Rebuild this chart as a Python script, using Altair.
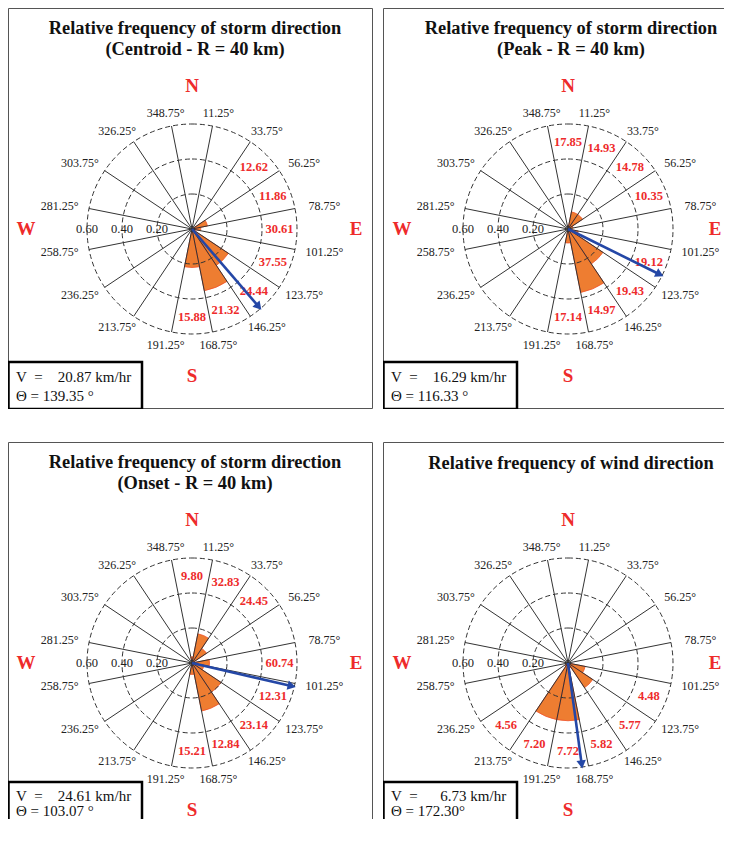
import math
import altair as alt
import pandas as pd

# ---------------- data ----------------
DIRS = [i * 22.5 for i in range(16)]            # sector centres (deg)
SPOKES = [11.25 + 22.5 * i for i in range(16)]  # sector edges (deg)
RINGS = [0.2, 0.4, 0.6]
RING_TEXT = ["0.20", "0.40", "0.60"]

TITLES = [
    ["Relative frequency of storm direction", "(Centroid - R = 40 km)"],
    ["Relative frequency of storm direction", "(Peak - R = 40 km)"],
    ["Relative frequency of storm direction", "(Onset - R = 40 km)"],
    ["Relative frequency of wind direction"],
]

centroid_freq = [0, 0, 0.01, 0.09, 0.05, 0.02, 0.25, 0.36, 0.22, 0, 0, 0, 0, 0, 0, 0]
centroid_speed = [None, None, 12.62, 11.86, 30.61, 37.55, 24.44, 21.32, 15.88,
                  None, None, None, None, None, None, None]

peak_freq = [0.02, 0.10, 0.10, 0.03, 0, 0.06, 0.24, 0.37, 0.08, 0, 0, 0, 0, 0, 0, 0]
peak_speed = [17.85, 14.93, 14.78, 10.35, None, 19.12, 19.43, 14.97, 17.14,
              None, None, None, None, None, None, None]

onset_freq = [0.035, 0.17, 0.10, 0, 0.10, 0.07, 0.20, 0.28, 0.065, 0, 0, 0, 0, 0, 0, 0]
onset_speed = [9.80, 32.83, 24.45, None, 60.74, 12.31, 23.14, 12.84, 15.21,
               None, None, None, None, None, None, None]

wind_freq = [0, 0, 0, 0, 0, 0.10, 0.17, 0.03, 0.33, 0.33, 0.02, 0, 0, 0, 0, 0]
wind_speed = [None, None, None, None, None, 4.48, 5.77, 5.82, 7.72, 7.20, 4.56,
              None, None, None, None, None]

FREQS = [centroid_freq, peak_freq, onset_freq, wind_freq]
SPEEDS = [centroid_speed, peak_speed, onset_speed, wind_speed]
V_MEAN = [20.87, 16.29, 24.61, 6.73]
THETA_MEAN = [139.35, 116.33, 103.07, 172.30]
THETA_SUFFIX = ["\u00a0°", "\u00a0°", "\u00a0°", "°"]
COMPASS = ["N", "E", "S", "W"]

# ---------------- layout / style ----------------
U = 175.0                 # px per frequency unit
COL_W = [365, 341]        # panel widths (right column is cut by the page edge)
ROW_H = [401, 377]        # panel heights (bottom row is cut by the page edge)
COL_CX = [184, 185]       # rose centre, px from panel left
CY = 221                  # rose centre, px from panel top
INFO_Y = [[354, 369, 388], [340, 354, 369]]   # box top, line 1, line 2 (px from panel top)
FONT = "Liberation Serif"
ORANGE = "#EE7D31"
RED = "#EE2B2B"
BLUE = "#2447A6"
GRID = "#333333"

TS = alt.Scale(domain=[0, 360], range=[0, 2 * math.pi])
RS = alt.Scale(type="linear", domain=[0, 0.6], range=[0, 0.6 * U], zero=True)


def rad(d):
    return math.radians(d)


def panel(i):
    col, row = i % 2, i // 2
    PW, PH, CX = COL_W[col], ROW_H[row], COL_CX[col]

    def px(xp):
        return (xp - CX) / U

    def py(yp):
        return (CY - yp) / U

    xs = alt.Scale(domain=[-CX / U, (PW - CX) / U], nice=False, zero=False)
    ys = alt.Scale(domain=[-(PH - CY) / U, CY / U], nice=False, zero=False)
    X = alt.X("x:Q", scale=xs, axis=None)
    Y = alt.Y("y:Q", scale=ys, axis=None)

    freq, speed = FREQS[i], SPEEDS[i]
    layers = []

    # panel frame (edges beyond the page are clipped away)
    fx2 = PW - 0.5 if col == 0 else PW + 10
    fy2 = PH - 0.5 if row == 0 else PH + 10
    fdf = pd.DataFrame({"x": [px(0.5)], "x2": [px(fx2)], "y": [py(0.5)], "y2": [py(fy2)]})
    layers.append(
        alt.Chart(fdf).mark_rect(fillOpacity=0, stroke="#555", strokeWidth=1, clip=True)
        .encode(x=X, y=Y, x2="x2:Q", y2="y2:Q")
    )

    # wedges
    w = []
    for d, f in zip(DIRS, freq):
        if f > 0:
            t1 = d - 11.25 if d > 0 else 348.75
            w.append({"x": 0, "y": 0, "t1": t1, "t2": t1 + 22.5, "f": f})
    layers.append(
        alt.Chart(pd.DataFrame(w)).mark_arc(fill=ORANGE, stroke="#F0502A", strokeWidth=0.8)
        .encode(x=X, y=Y,
                theta=alt.Theta("t1:Q", scale=TS, stack=False), theta2="t2:Q",
                radius=alt.Radius("f:Q", scale=RS, stack=False))
    )

    # dashed rings
    rdf = pd.DataFrame({"x": 0, "y": 0, "t1": 0, "t2": 360, "f": RINGS})
    layers.append(
        alt.Chart(rdf).mark_arc(fillOpacity=0, stroke=GRID, strokeWidth=1, strokeDash=[5, 3])
        .encode(x=X, y=Y,
                theta=alt.Theta("t1:Q", scale=TS, stack=False), theta2="t2:Q",
                radius=alt.Radius("f:Q", scale=RS, stack=False))
    )

    # spokes
    sdf = pd.DataFrame({
        "x": 0, "y": 0,
        "x2": [RINGS[-1] * math.sin(rad(s)) for s in SPOKES],
        "y2": [RINGS[-1] * math.cos(rad(s)) for s in SPOKES],
    })
    layers.append(
        alt.Chart(sdf).mark_rule(color=GRID, strokeWidth=1)
        .encode(x=X, y=Y, x2="x2:Q", y2="y2:Q")
    )

    # degree labels
    ldf = pd.DataFrame({
        "x": [0.771 * math.sin(rad(s)) for s in SPOKES],
        "y": [0.674 * math.cos(rad(s)) for s in SPOKES],
        "t": [f"{s:g}°" for s in SPOKES],
    })
    layers.append(
        alt.Chart(ldf).mark_text(font=FONT, fontSize=12, color="#222", align="center",
                                 baseline="middle", clip=True)
        .encode(x=X, y=Y, text="t:N")
    )

    # ring labels
    rl = pd.DataFrame({"x": [-r for r in RINGS], "y": 0, "t": RING_TEXT})
    layers.append(
        alt.Chart(rl).mark_text(font=FONT, fontSize=12.5, color="#222", align="center", baseline="middle")
        .encode(x=X, y=Y, text="t:N")
    )

    # speed labels
    sp = [{"x": 0.5 * math.sin(rad(d)), "y": 0.5 * math.cos(rad(d)), "t": f"{v:.2f}"}
          for d, v in zip(DIRS, speed) if v is not None]
    layers.append(
        alt.Chart(pd.DataFrame(sp)).mark_text(font=FONT, fontSize=12.5, fontWeight="bold", color=RED,
                                              align="center", baseline="middle")
        .encode(x=X, y=Y, text="t:N")
    )

    # compass letters (E of the right column pulled inside the page edge)
    ex = min(164, PW - CX - 9)
    cdf = pd.DataFrame({
        "x": [0, ex / U, 0, -166 / U],
        "y": [143 / U, 0, -147 / U, 0],
        "t": COMPASS,
    })
    layers.append(
        alt.Chart(cdf).mark_text(font=FONT, fontSize=19, fontWeight="bold", color=RED,
                                 align="center", baseline="middle", clip=True)
        .encode(x=X, y=Y, text="t:N")
    )

    # titles
    tys = [20, 41] if len(TITLES[i]) == 2 else [21]
    tdf = pd.DataFrame({"x": px(CX + 3), "y": [py(v) for v in tys], "t": TITLES[i]})
    layers.append(
        alt.Chart(tdf).mark_text(font=FONT, fontSize=18.4, fontWeight="bold", color="#111",
                                 align="center", baseline="middle", clip=True)
        .encode(x=X, y=Y, text="t:N")
    )

    # mean vector arrow
    th = THETA_MEAN[i]
    adf = pd.DataFrame({"x": [0], "y": [0],
                        "x2": [0.57 * math.sin(rad(th))], "y2": [0.57 * math.cos(rad(th))]})
    layers.append(
        alt.Chart(adf).mark_rule(color=BLUE, strokeWidth=2.6).encode(x=X, y=Y, x2="x2:Q", y2="y2:Q")
    )
    hdf = pd.DataFrame({"x": [0.585 * math.sin(rad(th))], "y": [0.585 * math.cos(rad(th))]})
    layers.append(
        alt.Chart(hdf).mark_point(shape="triangle-up", filled=True, size=90, color=BLUE,
                                  opacity=1, angle=th)
        .encode(x=X, y=Y)
    )

    # info box
    by, l1, l2 = INFO_Y[row]
    bdf = pd.DataFrame({"x": [px(0.5)], "x2": [px(134)], "y": [py(by)], "y2": [py(by + 47)]})
    layers.append(
        alt.Chart(bdf).mark_rect(fill="white", stroke="black", strokeWidth=2.5, clip=True)
        .encode(x=X, y=Y, x2="x2:Q", y2="y2:Q")
    )
    nb = "\u00a0"
    v = V_MEAN[i]
    pad = nb * 2 if v < 10 else ""
    lines = [f"V{nb*2}={nb*4}{pad}{v:.2f} km/hr",
             f"Θ{nb}={nb}{THETA_MEAN[i]:.2f}{THETA_SUFFIX[i]}"]
    idf = pd.DataFrame({"x": px(8), "y": [py(l1), py(l2)], "t": lines})
    layers.append(
        alt.Chart(idf).mark_text(font=FONT, fontSize=15, color="#111", align="left",
                                 baseline="middle", clip=True)
        .encode(x=X, y=Y, text="t:N")
    )

    return alt.layer(*layers).properties(width=PW, height=PH)


row1 = alt.hconcat(panel(0), panel(1), spacing=10)
row2 = alt.hconcat(panel(2), panel(3), spacing=10)
chart = (
    alt.vconcat(row1, row2, spacing=33)
    .properties(padding=0)
    .configure_view(stroke=None)
)

chart.save("out.html", embed_options={"renderer": "svg", "actions": False})
